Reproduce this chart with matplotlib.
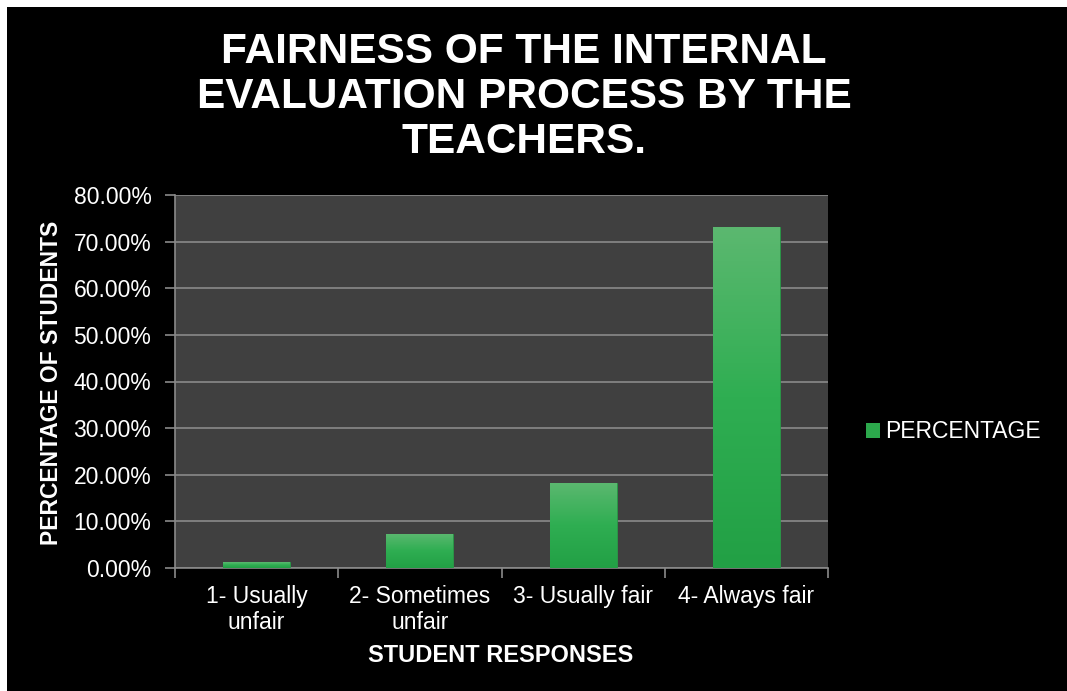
import matplotlib
matplotlib.use("Agg")
import matplotlib.pyplot as plt
import numpy as np
from matplotlib.patches import Rectangle, Patch
from matplotlib.colors import LinearSegmentedColormap
from matplotlib.ticker import FuncFormatter, FixedLocator

categories = ["1- Usually\nunfair", "2- Sometimes\nunfair", "3- Usually fair", "4- Always fair"]
percentages = [1.2, 7.3, 18.3, 73.2]
y_ticks = [0, 10, 20, 30, 40, 50, 60, 70, 80]
title = "FAIRNESS OF THE INTERNAL\nEVALUATION PROCESS BY THE\nTEACHERS."
x_label = "STUDENT RESPONSES"
y_label = "PERCENTAGE OF STUDENTS"
series_name = "PERCENTAGE"

plt.rcParams['font.family'] = ['Liberation Sans', 'DejaVu Sans']

W, H = 1067, 691
fig = plt.figure(figsize=(W / 100, H / 100), dpi=100, facecolor="white")
# black slide background with thin white margin on top/left
fig.patches.append(Rectangle((7 / W, 0), 1 - 7 / W, 1 - 7 / H, transform=fig.transFigure,
                             facecolor="black", edgecolor="none", zorder=-10))

ax = fig.add_axes([175 / W, 1 - 568 / H, (828 - 175) / W, (568 - 195) / H])
ax.set_zorder(2)
ax.set_facecolor("#404040")

x = np.arange(len(categories))
bars = ax.bar(x, percentages, width=0.41, color="#2ca84c", edgecolor="#2a9a48", linewidth=0.6, zorder=3)

cmap = LinearSegmentedColormap.from_list("g", ["#22a045", "#2fae52", "#5cb870"])
grad = np.linspace(0, 1, 256).reshape(-1, 1)
for b in bars:
    x0, y0 = b.get_x(), b.get_y()
    w, h = b.get_width(), b.get_height()
    im = ax.imshow(grad, extent=(x0, x0 + w, y0, y0 + h), origin="lower", cmap=cmap,
                   aspect="auto", zorder=3.5, interpolation="bilinear")
    im.set_clip_path(b)

ax.set_xlim(-0.5, len(categories) - 0.5)
ax.set_ylim(0, 80)
ax.yaxis.set_major_locator(FixedLocator(y_ticks))
ax.yaxis.set_major_formatter(FuncFormatter(lambda v, p: f"{v:.2f}%"))
ax.grid(axis="y", color="#8a8a8a", linewidth=1.2, zorder=1)
ax.set_axisbelow(True)

ax.set_xticks(x)
ax.set_xticklabels(categories, color="white", fontsize=16.5, linespacing=1.2)
ax.set_xticks(np.arange(-0.5, len(categories), 1.0), minor=True)
ax.tick_params(axis="x", which="major", length=0, pad=12)
ax.tick_params(axis="x", which="minor", length=7, color="#8a8a8a", width=1.2)
ax.tick_params(axis="y", which="major", length=7, color="#8a8a8a", width=1.2,
               labelcolor="white", labelsize=16.5, pad=10)

for s in ["top", "right"]:
    ax.spines[s].set_visible(False)
for s in ["left", "bottom"]:
    ax.spines[s].set_color("#8a8a8a")
    ax.spines[s].set_linewidth(1.2)

fig.text(524 / W, 1 - 97 / H, title, ha="center", va="center", color="white",
         fontsize=30.5, fontweight="bold", linespacing=1.17)
fig.text(501 / W, 1 - 655 / H, x_label, ha="center", va="center", color="white",
         fontsize=17, fontweight="bold")
fig.text(52 / W, 1 - 383 / H, y_label, ha="center", va="center", color="white",
         fontsize=16.5, fontweight="bold", rotation=90)

handle = Patch(facecolor="#2ca84c", edgecolor="none")
fig.legend([handle], [series_name], loc="center left", bbox_to_anchor=(866 / W, 1 - 432 / H),
           frameon=False, fontsize=16.5, labelcolor="white", handlelength=0.6, handleheight=0.6,
           handletextpad=0.25, borderaxespad=0, borderpad=0)

fig.savefig("out.png", dpi=100, facecolor=fig.get_facecolor())
